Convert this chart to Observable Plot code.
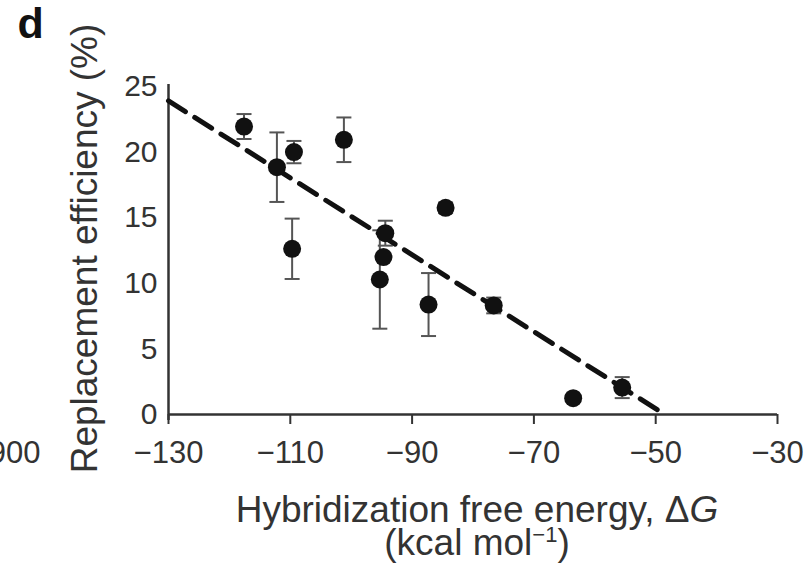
<!DOCTYPE html>
<html>
<head>
<meta charset="utf-8">
<script src="https://cdn.jsdelivr.net/npm/d3@7"></script>
<script src="https://cdn.jsdelivr.net/npm/@observablehq/plot@0.6"></script>
<style>
  html, body { margin: 0; padding: 0; background: #fff; }
  #chart { width: 812px; height: 568px; overflow: hidden; }
</style>
</head>
<body>
<div id="chart"></div>
<script>
// Hybridization free energy (kcal/mol) for each construct
const energy = [-117.6, -112.2, -109.4, -101.2, -109.7, -94.4, -94.7, -95.3, -84.5, -87.3, -76.6, -63.55, -55.5];
// Replacement efficiency (%)
const efficiency = [21.95, 18.85, 20.0, 20.94, 12.63, 13.82, 12.0, 10.29, 15.75, 8.38, 8.31, 1.24, 2.05];
// Error (± %)
const errors = [0.95, 2.65, 0.85, 1.7, 2.3, 0.95, 0, 3.75, 0.4, 2.4, 0.6, 0, 0.8];
// Dashed trend line endpoints
const trendX = [-130, -49.5];
const trendY = [23.9, 0.3];
// Tick labels
const xTicks = [-130, -110, -90, -70, -50, -30];
const yTicks = [0, 5, 10, 15, 20, 25];
// Text
const panelLabel = "d";
const yLabel = "Replacement efficiency (%)";
const xLabel1 = "Hybridization free energy, ΔG";
const xLabel2 = "(kcal mol−1)";
const neighbourTick = "900";

const points = energy.map((x, i) => ({x, y: efficiency[i], e: errors[i]}));
const bars = points.filter(d => d.e > 0);
const caps = bars.flatMap(d => [{x: d.x, y: d.y - d.e}, {x: d.x, y: d.y + d.e}]);
const trend = trendX.map((x, i) => ({x, y: trendY[i]}));

const capSymbol = {
  draw(context, size) {
    const r = Math.sqrt(size / Math.PI);
    context.moveTo(-r, 0);
    context.lineTo(r, 0);
  }
};

const fmt = d => d < 0 ? "\u2212" + Math.abs(d) : String(d);
const font = "'Liberation Sans', Arial, Helvetica, sans-serif";

const chart = Plot.plot({
  width: 812,
  height: 568,
  marginLeft: 168,
  marginRight: 35,
  marginTop: 86,
  marginBottom: 154,
  style: {fontFamily: font, color: "#333", background: "white", overflow: "visible"},
  x: {domain: [-130, -30]},
  y: {domain: [0, 25]},
  marks: [
    Plot.axisX({ticks: xTicks, tickFormat: fmt, tickSize: 10, tickPadding: 16, fontSize: 31, stroke: "#333", strokeWidth: 2, fill: "#333", label: null}),
    Plot.axisY({ticks: yTicks, tickFormat: fmt, tickSize: 0, tickPadding: 11, fontSize: 30, fill: "#333", label: null}),
    Plot.ruleX([-130], {stroke: "#333", strokeWidth: 2.5, insetBottom: -6, insetTop: -2}),
    Plot.ruleY([0], {stroke: "#333", strokeWidth: 2.5}),
    Plot.ruleX(bars, {x: "x", y1: d => d.y - d.e, y2: d => d.y + d.e, stroke: "#555", strokeWidth: 2}),
    Plot.dot(caps, {x: "x", y: "y", r: 7.5, symbol: capSymbol, stroke: "#555", strokeWidth: 2, fill: "none"}),
    Plot.line(trend, {x: "x", y: "y", stroke: "#111", strokeWidth: 5, strokeDasharray: "20,11"}),
    Plot.dot(points, {x: "x", y: "y", r: 9, fill: "#111", stroke: "none"}),
    Plot.text([panelLabel], {text: d => d, frameAnchor: "top-left", dx: -151, dy: -86 + 37, lineAnchor: "bottom", textAnchor: "start", fontSize: 43, fontWeight: "bold", fill: "#111"}),
    Plot.text([yLabel], {text: d => d, frameAnchor: "left", rotate: -90, dx: -83, dy: -2, textAnchor: "middle", lineAnchor: "middle", fontSize: 37, fill: "#333"}),
    Plot.text([xLabel1 + "\n" + xLabel2], {text: d => d, frameAnchor: "bottom", dx: 4, dy: 84, textAnchor: "middle", lineAnchor: "top", lineHeight: 0.89, fontSize: 37, fill: "#333"}),
    Plot.text([neighbourTick], {text: d => d, frameAnchor: "bottom-left", dx: -128, dy: 26, textAnchor: "end", lineAnchor: "top", fontSize: 31, fill: "#333"})
  ]
});

// Rich text: italic G and superscript −1
d3.select(chart).selectAll("tspan").each(function() {
  const t = this.textContent;
  if (t === xLabel1) {
    const s = d3.select(this);
    s.text("Hybridization free energy, Δ");
    s.append("tspan").attr("font-style", "italic").text("G");
  } else if (t === xLabel2) {
    const s = d3.select(this);
    s.text("(kcal mol");
    s.append("tspan").attr("dy", -13).attr("font-size", 22).text("\u22121");
    s.append("tspan").attr("dy", 13).attr("font-size", 37).text(")");
  }
});

document.getElementById("chart").appendChild(chart);
</script>
</body>
</html>
